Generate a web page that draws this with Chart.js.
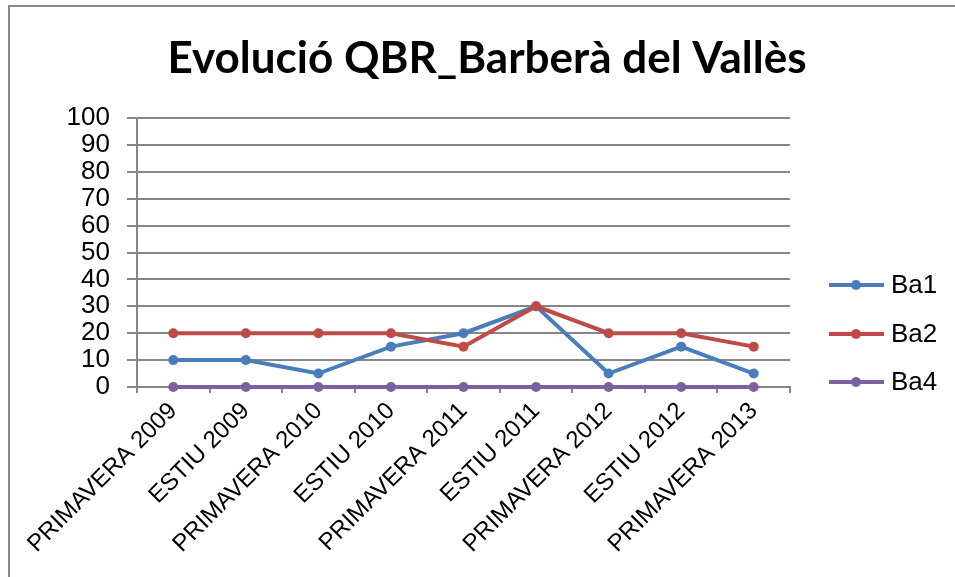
<!DOCTYPE html>
<html>
<head>
<meta charset="utf-8">
<script src="https://cdn.jsdelivr.net/npm/chart.js@4/dist/chart.umd.min.js"></script>
<style>
  html, body { margin: 0; padding: 0; background: #fff; }
  #wrap { position: relative; width: 955px; height: 577px; overflow: hidden; }
  #frame { position: absolute; left: 8px; top: 5px; width: 1000px; height: 700px;
           border-top: 2px solid #8a8a8a; border-left: 2px solid #8a8a8a; pointer-events: none; }
</style>
</head>
<body>
<div id="wrap">
  <canvas id="qbrChart" width="955" height="577"></canvas>
  <div id="frame"></div>
</div>
<script>
// QBR evolution per sampling campaign
const campaigns = ['PRIMAVERA 2009', 'ESTIU 2009', 'PRIMAVERA 2010', 'ESTIU 2010', 'PRIMAVERA 2011',
                   'ESTIU 2011', 'PRIMAVERA 2012', 'ESTIU 2012', 'PRIMAVERA 2013'];
const ba1 = [10, 10, 5, 15, 20, 30, 5, 15, 5];
const ba2 = [20, 20, 20, 20, 15, 30, 20, 20, 15];
const ba4 = [0, 0, 0, 0, 0, 0, 0, 0, 0];
const yTicks = [0, 10, 20, 30, 40, 50, 60, 70, 80, 90, 100];

const gridColor = '#868686';

function series(label, data, color, order) {
    return {
        label: label,
        data: data,
        borderColor: color,
        backgroundColor: color,
        borderWidth: 4,
        pointRadius: 5,
        pointHoverRadius: 5,
        pointBorderWidth: 0,
        tension: 0,
        clip: false,
        order: order
    };
}

// Title and right-hand legend drawn straight on the canvas
const decorations = {
    id: 'decorations',
    afterDraw(chart) {
        const ctx = chart.ctx;
        ctx.save();
        ctx.fillStyle = '#000';
        ctx.font = 'bold 44px Lato';
        ctx.textAlign = 'center';
        ctx.textBaseline = 'alphabetic';
        ctx.fillText('Evolució QBR_Barberà del Vallès', 487, 73);

        const rows = [285, 334, 382];
        ctx.font = '26px "Liberation Sans", Arial';
        ctx.textAlign = 'left';
        ctx.textBaseline = 'middle';
        chart.data.datasets.forEach((ds, i) => {
            const y = rows[i];
            ctx.strokeStyle = ds.borderColor;
            ctx.lineWidth = 4;
            ctx.beginPath();
            ctx.moveTo(829, y);
            ctx.lineTo(884, y);
            ctx.stroke();
            ctx.fillStyle = ds.borderColor;
            ctx.beginPath();
            ctx.arc(856, y, 5, 0, Math.PI * 2);
            ctx.fill();
            ctx.fillStyle = '#000';
            ctx.fillText(ds.label, 891, y + 1);
        });
        ctx.restore();
    }
};

const ctx = document.getElementById('qbrChart').getContext('2d');
const qbrChart = new Chart(ctx, {
    type: 'line',
    data: {
        labels: campaigns,
        datasets: [
            series('Ba1', ba1, '#4a7ebb', 3),
            series('Ba2', ba2, '#be4b48', 2),
            series('Ba4', ba4, '#7d60a0', 1)
        ]
    },
    options: {
        responsive: false,
        animation: false,
        layout: { padding: { left: 0, top: 118, right: 165, bottom: 0 } },
        plugins: {
            legend: { display: false },
            title: { display: false },
            tooltip: { enabled: false }
        },
        scales: {
            x: {
                offset: true,
                afterFit(scale) { scale.height = 190; },
                grid: {
                    offset: true,
                    drawOnChartArea: false,
                    color: gridColor,
                    lineWidth: 2,
                    tickLength: 6
                },
                border: { color: gridColor, width: 2 },
                ticks: {
                    color: '#000',
                    font: { family: '"Liberation Sans", Arial', size: 24 },
                    minRotation: 45,
                    maxRotation: 45,
                    padding: 4,
                    autoSkip: false
                }
            },
            y: {
                min: 0,
                max: 100,
                afterFit(scale) { scale.width = 137; },
                afterBuildTicks(scale) { scale.ticks = yTicks.map(v => ({ value: v })); },
                grid: {
                    color: gridColor,
                    lineWidth: 2,
                    tickLength: 10
                },
                border: { color: gridColor, width: 2 },
                ticks: {
                    color: '#000',
                    font: { family: '"Liberation Sans", Arial', size: 26 },
                    padding: 17,
                    autoSkip: false
                }
            }
        }
    },
    plugins: [decorations]
});
</script>
</body>
</html>
